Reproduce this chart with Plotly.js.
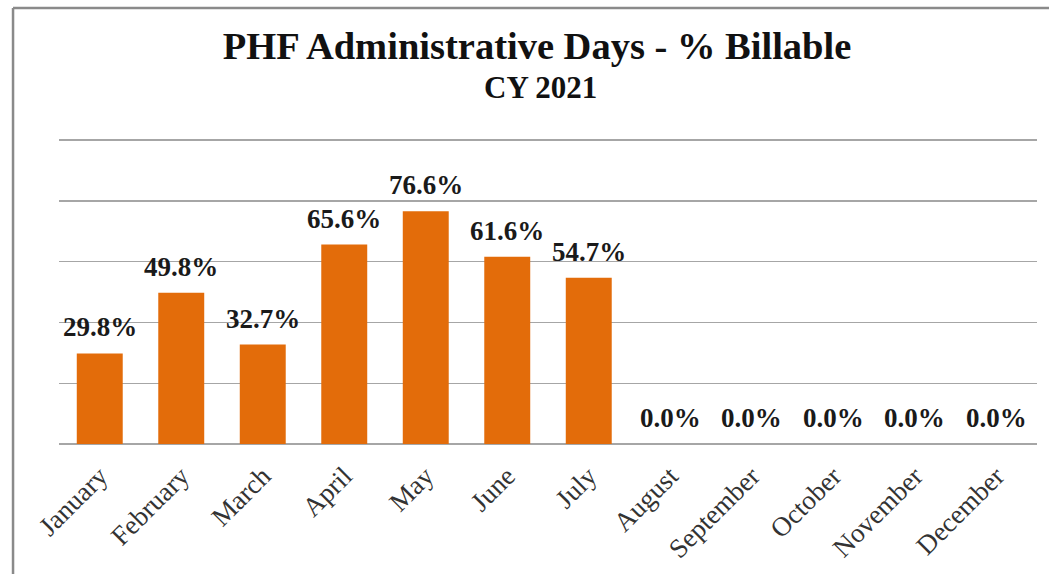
<!DOCTYPE html>
<html>
<head>
<meta charset="utf-8">
<script src="https://cdn.plot.ly/plotly-3.0.1.min.js"></script>
<style>
html,body{margin:0;padding:0;background:#fff;}
#chart{width:1049px;height:574px;}
</style>
</head>
<body>
<div id="chart"></div>
<script>
const months = ["January","February","March","April","May","June","July","August","September","October","November","December"];
const billablePct = [29.8, 49.8, 32.7, 65.6, 76.6, 61.6, 54.7, 0.0, 0.0, 0.0, 0.0, 0.0];
const titleText = "PHF Administrative Days - % Billable";
const subtitleText = "CY 2021";

const serif = "'Liberation Serif', 'DejaVu Serif', serif";

const trace = {
  type: 'bar',
  x: months,
  y: billablePct,
  marker: {color: '#E36C0A', line: {width: 0}},
  hoverinfo: 'x+y'
};

const annotations = months.map((m, i) => ({
  x: m, y: billablePct[i], xref: 'x', yref: 'y',
  text: billablePct[i].toFixed(1) + '%',
  showarrow: false, yanchor: 'bottom', yshift: 9,
  font: {family: serif, size: 27, color: '#1a1a1a', weight: 'bold'}
}));

annotations.push({
  x: 0.492, y: 1.17, xref: 'paper', yref: 'paper',
  xanchor: 'center', yanchor: 'middle', showarrow: false,
  text: '<b>' + subtitleText + '</b>',
  font: {family: serif, size: 31, color: '#111111'}
});

// frame lines (top and left edges of the chart frame)
const shapes = [
  {type: 'line', xref: 'paper', yref: 'paper', x0: -0.047, x1: 1.05, y0: 1.4295, y1: 1.4295,
   line: {color: '#8a8a8a', width: 2.5}},
  {type: 'line', xref: 'paper', yref: 'paper', x0: -0.047, x1: -0.047, y0: 1.4295, y1: -0.5,
   line: {color: '#8a8a8a', width: 2.5}}
];

const layout = {
  width: 1049, height: 574,
  margin: {l: 59, r: 12, t: 139, b: 130},
  paper_bgcolor: '#ffffff', plot_bgcolor: '#ffffff',
  showlegend: false,
  bargap: 0.436,
  title: {
    text: '<b>' + titleText + '</b>',
    x: 0.512, xref: 'container', xanchor: 'center',
    y: 0.92, yref: 'container', yanchor: 'middle',
    font: {family: serif, size: 38.5, color: '#111111'}
  },
  xaxis: {
    type: 'category',
    tickangle: -45,
    tickfont: {family: serif, size: 27, color: '#333333'},
    showgrid: false, zeroline: false, showline: false,
    ticks: '', ticklabelstandoff: 10
  },
  yaxis: {
    range: [0, 100.35], dtick: 20, tick0: 0,
    showticklabels: false, ticks: '',
    showgrid: true, gridcolor: '#a6a6a6', gridwidth: 1.3,
    zeroline: true, zerolinecolor: '#a6a6a6', zerolinewidth: 2,
    showline: false, fixedrange: true
  },
  annotations: annotations,
  shapes: shapes
};

Plotly.newPlot('chart', [trace], layout, {displayModeBar: false, staticPlot: true});
</script>
</body>
</html>
